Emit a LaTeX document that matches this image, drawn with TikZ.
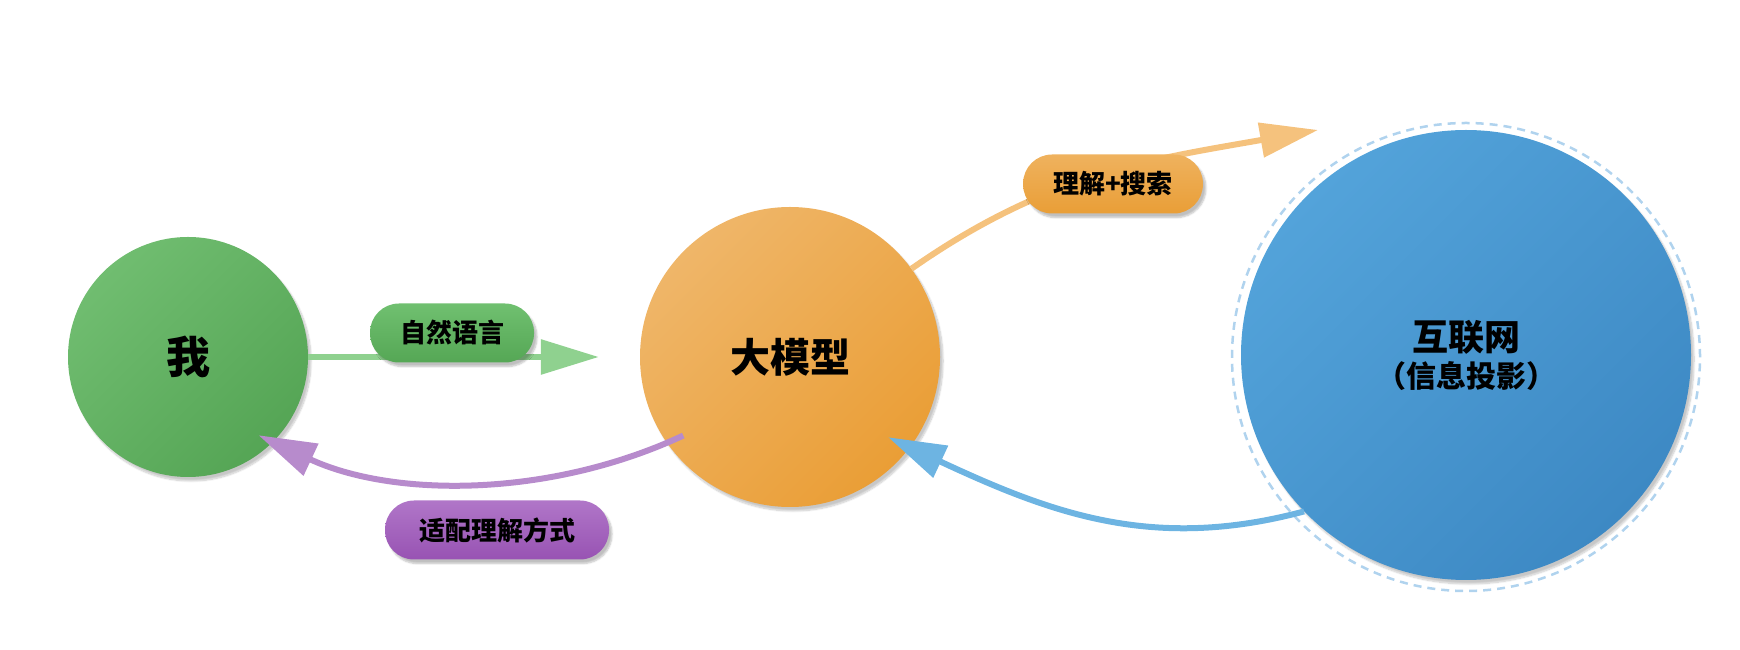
\documentclass[tikz,border=0pt]{standalone}
\usepackage{fontspec}
\newfontfamily\cjk{Noto Sans CJK SC}
\usetikzlibrary{arrows.meta,shadows.blur}
\definecolor{meLight}{HTML}{70BD70}
\definecolor{meDark}{HTML}{55A555}
\definecolor{llmLight}{HTML}{EFB669}
\definecolor{llmDark}{HTML}{EA9E36}
\definecolor{netLight}{HTML}{53A3DA}
\definecolor{netDark}{HTML}{3D89C4}
\definecolor{ringBlue}{HTML}{B0D3EE}
\definecolor{greenFlow}{HTML}{8FD18F}
\definecolor{orangeFlow}{HTML}{F5C27D}
\definecolor{purpleFlow}{HTML}{B78BCC}
\definecolor{blueFlow}{HTML}{6DB4E2}
\definecolor{tagGreenL}{HTML}{70C070}
\definecolor{tagGreenD}{HTML}{55A755}
\definecolor{tagOrangeL}{HTML}{EFB25E}
\definecolor{tagOrangeD}{HTML}{E99E37}
\definecolor{tagPurpleL}{HTML}{B076C8}
\definecolor{tagPurpleD}{HTML}{9853B3}
\begin{document}
\begin{tikzpicture}[x=1pt, y=1pt, >={Triangle[length=58pt,width=34pt]},
    blob/.style={circle, inner sep=0pt, text=black, font=\cjk\bfseries,
      shading angle=45,
      blur shadow={shadow xshift=3pt, shadow yshift=-4pt, shadow blur steps=10, shadow opacity=22}},
    tag/.style={rounded corners=29pt, minimum height=59pt, inner xsep=30pt, text=black,
      font=\cjk\bfseries\fontsize{26pt}{30pt}\selectfont,
      blur shadow={shadow xshift=3pt, shadow yshift=-4pt, shadow blur steps=6, shadow opacity=25}},
    flow/.style={line width=6pt, ->}]
  \useasboundingbox (0,0) rectangle (1740,650);
  % the three circles
  \node[blob, minimum size=240pt, top color=meLight, bottom color=meDark, shading angle=45,
    font=\cjk\bfseries\fontsize{44pt}{50pt}\selectfont] (me) at (188,293) {我};
  \node[blob, minimum size=300pt, top color=llmLight, bottom color=llmDark, shading angle=45,
    font=\cjk\bfseries\fontsize{40pt}{46pt}\selectfont] (llm) at (790,293) {大模型};
  \node[circle, minimum size=468pt, draw=ringBlue, line width=2.5pt, dash pattern=on 8pt off 6pt] (ring) at (1466,293) {};
  \node[blob, minimum size=450pt, top color=netLight, bottom color=netDark, shading angle=45,
    align=center, font=\cjk\bfseries\fontsize{36pt}{44pt}\selectfont] (net) at (1466,295)
    {互联网\\[-7pt]{\fontsize{30pt}{44pt}\selectfont （信息投影）}};
  \coordinate (searchtip) at (1318,520);
  % arrows
  \draw[flow, greenFlow, shorten >=41pt] (me.east) -- (llm.west);
  \draw[flow, orangeFlow] (llm.36) to[out=35, in=190] (searchtip);
  \draw[flow, purpleFlow, shorten <=-18pt, shorten >=-16pt] (llm.215) to[out=205, in=-25, looseness=0.85] (me.-45);
  \draw[flow, blueFlow, shorten >=-24pt] (net.224) to[out=195, in=-25] (llm.-37);
  % labels
  \node[tag, top color=tagGreenL, bottom color=tagGreenD] (language) at (452,317) {自然语言};
  \node[tag, top color=tagOrangeL, bottom color=tagOrangeD] (search) at (1113,466) {理解+搜索};
  \node[tag, inner xsep=34pt, top color=tagPurpleL, bottom color=tagPurpleD] (adapt) at (497,120) {适配理解方式};
\end{tikzpicture}
\end{document}
